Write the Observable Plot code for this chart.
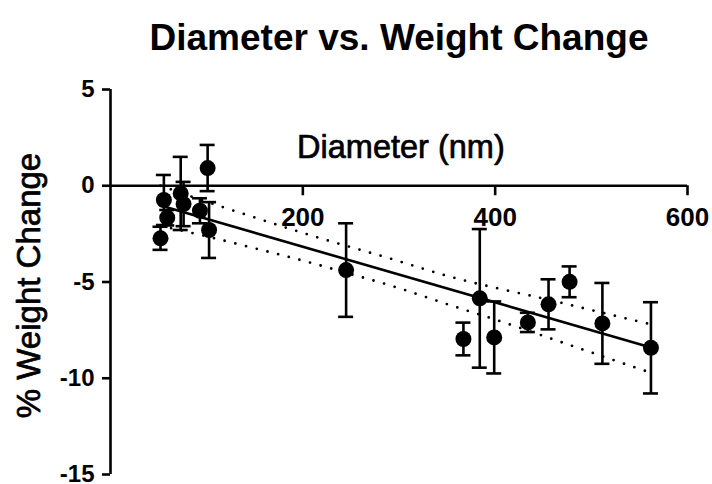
<!DOCTYPE html>
<html>
<head>
<meta charset="utf-8">
<script src="https://cdn.jsdelivr.net/npm/d3@7"></script>
<script src="https://cdn.jsdelivr.net/npm/@observablehq/plot@0.6"></script>
<style>
  html, body { margin: 0; padding: 0; background: #fff; }
  #chart svg { display: block; overflow: visible; }
</style>
</head>
<body>
<div id="chart"></div>
<script>
// Data
const diameters = [52, 55.5, 59, 73, 76, 93, 101, 102.5, 245, 367, 384, 399, 434, 455.5, 477.4, 511.5, 562];
const weightChange = [-2.73, -0.74, -1.66, -0.4, -0.95, -1.3, 0.92, -2.3, -4.38, -7.96, -5.85, -7.88, -7.1, -6.16, -4.99, -7.15, -8.42];
const errors = [0.6, 1.3, 0.4, 1.9, 1.15, 0.65, 1.2, 1.45, 2.43, 0.85, 3.6, 1.87, 0.5, 1.3, 0.8, 2.1, 2.37];

// Regression line (solid) endpoints
const fitX = [52, 562];
const fitY = [-1.03, -8.40];

// 95% confidence band (dotted)
const bandX = [52, 100, 150, 200, 250, 300, 350, 400, 450, 500, 562];
const bandUpper = [0.0, -0.83, -1.65, -2.45, -3.19, -3.92, -4.68, -5.3, -5.86, -6.46, -7.2];
const bandLower = [-2.08, -2.63, -3.25, -3.89, -4.59, -5.32, -6.15, -6.95, -7.8, -8.66, -9.72];

// Axis ticks and texts
const xTicks = [200, 400, 600];
const yTicks = [5, 0, -5, -10, -15];
const title = "Diameter vs. Weight Change";
const xLabel = "Diameter (nm)";
const yLabel = "% Weight Change";

const points = diameters.map((d, i) => ({x: d, y: weightChange[i], err: errors[i]}));
const fit = fitX.map((d, i) => ({x: d, y: fitY[i]}));
const upper = bandX.map((d, i) => ({x: d, y: bandUpper[i]}));
const lower = bandX.map((d, i) => ({x: d, y: bandLower[i]}));

const SW = 2.6;
const font = "Liberation Sans, Arial, Helvetica, sans-serif";

const chart = Plot.plot({
  width: 712,
  height: 484,
  marginLeft: 110,
  marginRight: 25,
  marginTop: 89,
  marginBottom: 10,
  style: {fontFamily: font, color: "#000", background: "#fff", overflow: "visible"},
  x: {domain: [0, 600], axis: null},
  y: {domain: [-15, 5]},
  marks: [
    // axes lines
    Plot.ruleX([0], {y1: -15, y2: 5, strokeWidth: SW, stroke: "#000"}),
    Plot.ruleY([0], {x1: 0, x2: 600, strokeWidth: SW, stroke: "#000"}),
    Plot.axisY({
      ticks: yTicks,
      tickFormat: d => String(d),
      tickSize: 8,
      tickPadding: 8,
      strokeWidth: SW,
      fontSize: 24,
      fontWeight: "bold",
      label: null
    }),
    // x ticks on the zero line
    Plot.ruleX(xTicks, {x: d => d, y1: 0, y2: 0, insetBottom: -10, strokeWidth: SW, stroke: "#000"}),
    Plot.text(xTicks, {x: d => d, y: 0, text: d => String(d), dy: 32, fontSize: 26, fontWeight: "bold", fill: "#000"}),
    // labels
    Plot.text([xLabel], {x: 302, y: 0, text: d => d, dy: -28, lineAnchor: "bottom", fontSize: 32.5, fill: "#000", stroke: "#000", strokeWidth: 0.7}),
    Plot.text([yLabel], {frameAnchor: "left", text: d => d, rotate: -90, textAnchor: "middle", dx: -71, dy: 3.5, lineAnchor: "bottom", fontSize: 33, fill: "#000", stroke: "#000", strokeWidth: 0.7}),
    Plot.text([title], {frameAnchor: "top", text: d => d, dy: -40, lineAnchor: "bottom", fontSize: 37, fontWeight: "bold", fill: "#000"}),
    // confidence band
    Plot.line(upper, {x: "x", y: "y", curve: "natural", strokeWidth: 2.8, strokeLinecap: "round", strokeDasharray: "0,11", stroke: "#000"}),
    Plot.line(lower, {x: "x", y: "y", curve: "natural", strokeWidth: 2.8, strokeLinecap: "round", strokeDasharray: "0,11", stroke: "#000"}),
    // fit line
    Plot.line(fit, {x: "x", y: "y", strokeWidth: SW, stroke: "#000"}),
    // error bars
    Plot.ruleX(points, {x: "x", y1: d => d.y - d.err, y2: d => d.y + d.err, strokeWidth: SW, stroke: "#000"}),
    Plot.ruleY(points, {y: d => d.y + d.err, x1: "x", x2: "x", insetLeft: -7.5, insetRight: -7.5, strokeWidth: SW, stroke: "#000"}),
    Plot.ruleY(points, {y: d => d.y - d.err, x1: "x", x2: "x", insetLeft: -7.5, insetRight: -7.5, strokeWidth: SW, stroke: "#000"}),
    // points
    Plot.dot(points, {x: "x", y: "y", r: 8, fill: "#000", stroke: null})
  ]
});

document.getElementById("chart").appendChild(chart);
</script>
</body>
</html>
